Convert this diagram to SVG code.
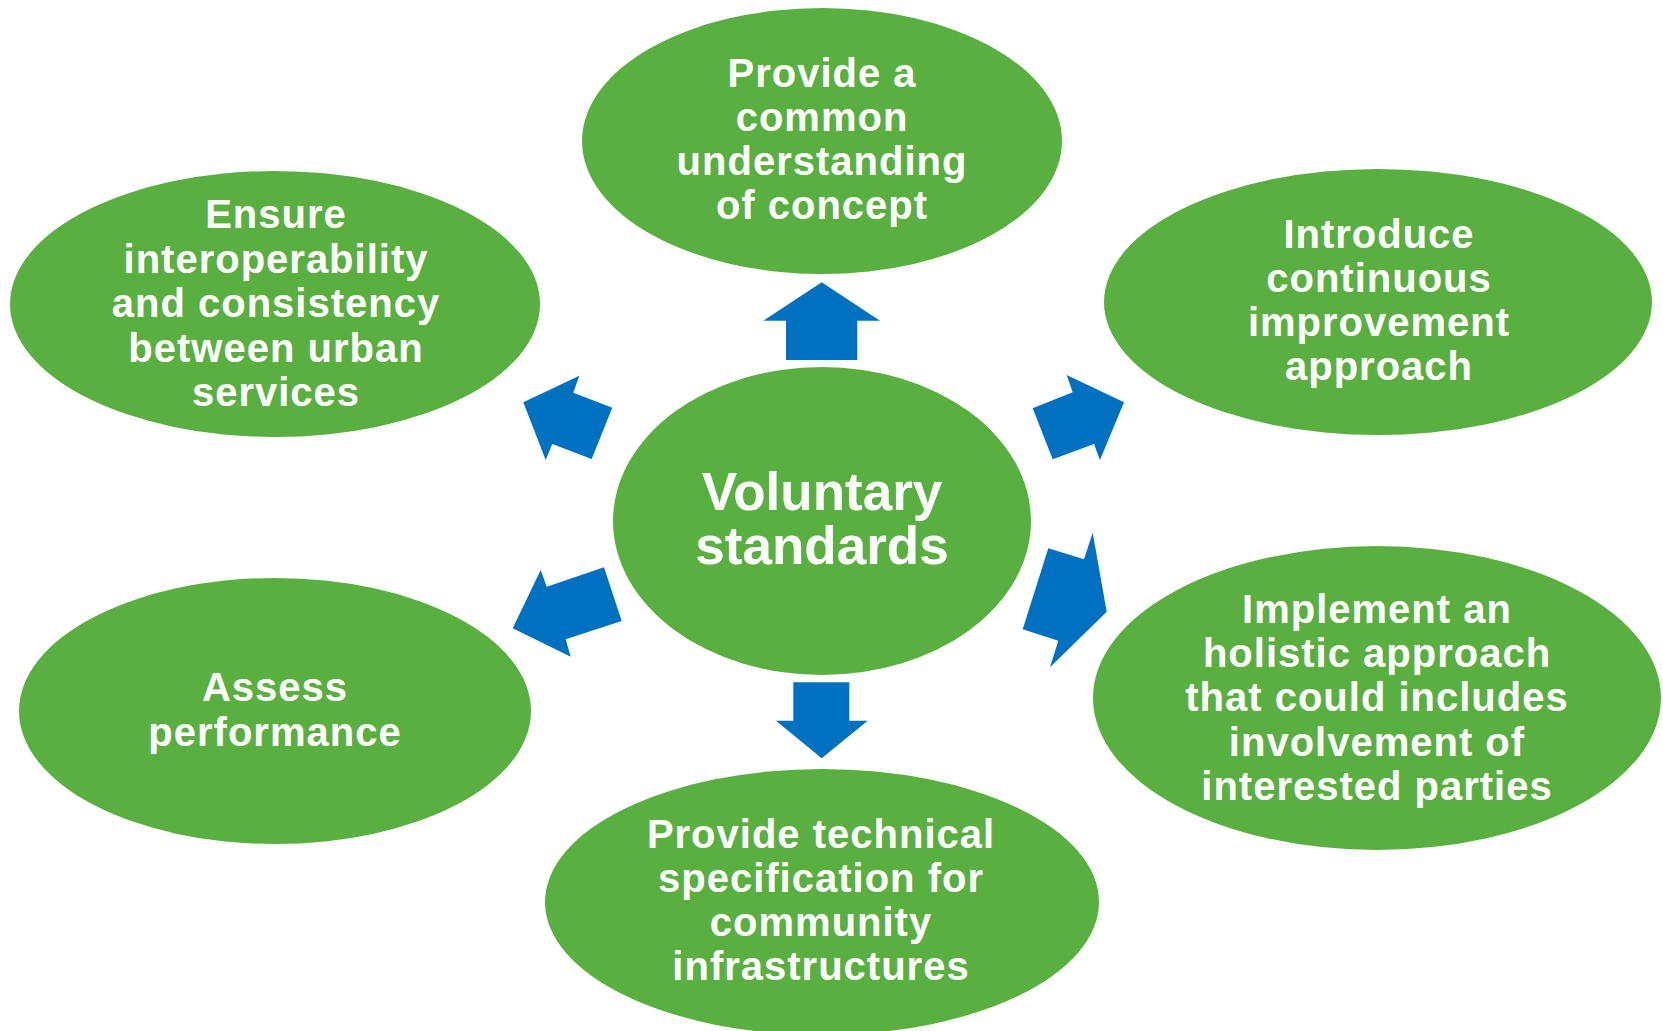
<svg xmlns="http://www.w3.org/2000/svg" width="1663" height="1031" viewBox="0 0 1663 1031">
<style>
.node ellipse { fill: #5AAF41; }
.node text { fill: #FFFFFF; font-family: "Liberation Sans", Arial, sans-serif; font-weight: bold; font-size: 40px; letter-spacing: 1px; text-anchor: middle; }
#center text { font-size: 53px; letter-spacing: 0px; }
.arrow { fill: #0070C0; }
</style>
<rect width="1663" height="1031" fill="#FFFFFF"/>
<g id="connectors">
  <polygon class="arrow" points="821.7,282.3 880,320.7 857.3,320.7 857.3,360 786,360 786,320.7 763.3,320.7"/>
  <polygon class="arrow" points="793.3,682.3 849.3,682.3 849.3,720.7 867.7,720.7 821.7,758.3 776,720.7 793.3,720.7"/>
  <polygon class="arrow" points="523.3,402.3 579.3,375.7 573.3,392.7 612.3,407.7 591.7,459 552.3,444 545.7,460"/>
  <polygon class="arrow" points="1124,402.3 1066.7,375 1072.7,392.3 1032.7,408.3 1052.7,459.3 1094,444 1100,460"/>
  <polygon class="arrow" points="512.7,628.3 540.7,570 546.7,586.7 604,567.3 621.7,621 565.7,639.3 570.7,656.7"/>
  <polygon class="arrow" points="1106.7,611.7 1092.7,532.7 1084,559.3 1048.3,548.3 1022.7,629.3 1058.3,640.7 1050,667.3"/>
</g>
<g id="center" class="node">
  <ellipse cx="822" cy="521" rx="209" ry="154"/>
  <text x="822" y="510">Voluntary</text>
  <text x="822" y="564">standards</text>
</g>
<g id="n-top" class="node">
  <ellipse cx="822" cy="141" rx="240" ry="133"/>
  <text x="822" y="87">Provide a</text>
  <text x="822" y="131">common</text>
  <text x="822" y="175">understanding</text>
  <text x="822" y="219">of concept</text>
</g>
<g id="n-upper-left" class="node">
  <ellipse cx="275" cy="304" rx="265" ry="133"/>
  <text x="276" y="228">Ensure</text>
  <text x="276" y="272.5">interoperability</text>
  <text x="276" y="317">and consistency</text>
  <text x="276" y="361.5">between urban</text>
  <text x="276" y="406">services</text>
</g>
<g id="n-upper-right" class="node">
  <ellipse cx="1378" cy="302" rx="274" ry="133"/>
  <text x="1379" y="248">Introduce</text>
  <text x="1379" y="292">continuous</text>
  <text x="1379" y="336">improvement</text>
  <text x="1379" y="380">approach</text>
</g>
<g id="n-lower-left" class="node">
  <ellipse cx="275" cy="711" rx="256" ry="133"/>
  <text x="275" y="701">Assess</text>
  <text x="275" y="745.5">performance</text>
</g>
<g id="n-lower-right" class="node">
  <ellipse cx="1377" cy="698" rx="284" ry="152"/>
  <text x="1377" y="623">Implement an</text>
  <text x="1377" y="667">holistic approach</text>
  <text x="1377" y="711">that could includes</text>
  <text x="1377" y="755.5">involvement of</text>
  <text x="1377" y="800">interested parties</text>
</g>
<g id="n-bottom" class="node">
  <ellipse cx="822" cy="902" rx="277" ry="133"/>
  <text x="821" y="848">Provide technical</text>
  <text x="821" y="892">specification for</text>
  <text x="821" y="936">community</text>
  <text x="821" y="980">infrastructures</text>
</g>
</svg>
